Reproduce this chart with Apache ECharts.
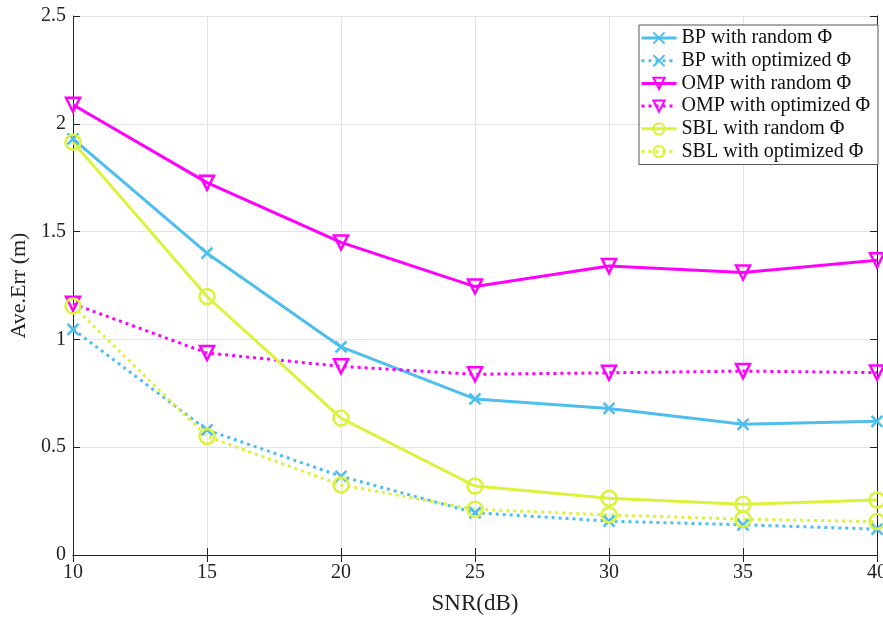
<!DOCTYPE html>
<html>
<head>
<meta charset="utf-8">
<script src="https://cdn.jsdelivr.net/npm/echarts@6/dist/echarts.min.js"></script>
<style>
  html, body { margin: 0; padding: 0; background: #fff; }
  #chart { width: 883px; height: 617px; }
</style>
</head>
<body>
<div id="chart"></div>
<script>
// SNR values on the x axis
const snr = [10, 15, 20, 25, 30, 35, 40];

// average error per method
const bpRandom = [1.93, 1.40, 0.965, 0.724, 0.68, 0.606, 0.62];
const bpOptimized = [1.047, 0.58, 0.365, 0.196, 0.157, 0.14, 0.12];
const ompRandom = [2.088, 1.727, 1.45, 1.245, 1.34, 1.31, 1.367];
const ompOptimized = [1.165, 0.937, 0.875, 0.838, 0.845, 0.853, 0.846];
const sblRandom = [1.915, 1.199, 0.635, 0.32, 0.263, 0.235, 0.255];
const sblOptimized = [1.155, 0.55, 0.325, 0.212, 0.186, 0.166, 0.155];

const names = [
    'BP with random \u03A6',
    'BP with optimized \u03A6',
    'OMP with random \u03A6',
    'OMP with optimized \u03A6',
    'SBL with random \u03A6',
    'SBL with optimized \u03A6'
];

const blue = '#4DBEEE';
const magenta = '#FF00FF';
const lime = '#DCF23A';
const font = '"Liberation Serif", "Times New Roman", serif';

const cross = 'path://M0,0L10,10M10,0L0,10';
const triDown = 'path://M0,0L10,0L5,9Z';

function pairs(vals) {
    return snr.map((x, i) => [x, vals[i]]);
}

function makeSeries(name, vals, color, symbol, size, dotted) {
    return {
        name: name,
        type: 'line',
        data: pairs(vals),
        symbol: symbol,
        symbolSize: size,
        showAllSymbol: true,
        lineStyle: {
            color: color,
            width: 3,
            type: dotted ? [3, 4] : 'solid'
        },
        itemStyle: {
            color: 'rgba(255,255,255,0)',
            borderColor: color,
            borderWidth: 2.5
        },
        emphasis: { disabled: true },
        z: 3
    };
}

let myChart = echarts.init(document.getElementById('chart'));

let option = {
    backgroundColor: '#fff',
    animation: false,
    textStyle: { fontFamily: font },
    grid: {
        left: 73,
        right: 6,
        top: 16,
        bottom: 62,
        outerBoundsMode: 'none'
    },
    legend: {
        orient: 'vertical',
        right: 5,
        top: 25,
        padding: [3, 8, 3, 1],
        itemWidth: 35,
        itemHeight: 14,
        itemGap: 2.7,
        backgroundColor: '#fff',
        borderColor: '#555',
        borderWidth: 1,
        lineStyle: { width: 3 },
        textStyle: {
            fontFamily: font,
            fontSize: 20,
            color: '#111'
        },
        data: names
    },
    xAxis: [
        {
            type: 'value',
            min: 10,
            max: 40,
            interval: 5,
            name: 'SNR(dB)',
            nameLocation: 'middle',
            nameGap: 37,
            nameTextStyle: { fontFamily: font, fontSize: 23, color: '#222' },
            axisLine: { lineStyle: { color: '#222', width: 1 } },
            axisTick: { inside: true, length: 7, lineStyle: { color: '#222' } },
            axisLabel: { fontFamily: font, fontSize: 20, color: '#222', margin: 8 },
            splitLine: { show: true, lineStyle: { color: '#e3e3e3', width: 1 } }
        },
        {
            type: 'value',
            position: 'top',
            min: 10,
            max: 40,
            interval: 5,
            axisLine: { show: true, lineStyle: { color: '#222', width: 1 } },
            axisTick: { show: true, inside: true, length: 7, lineStyle: { color: '#222' } },
            axisLabel: { show: false },
            splitLine: { show: false }
        }
    ],
    yAxis: [
        {
            type: 'value',
            min: 0,
            max: 2.5,
            interval: 0.5,
            name: 'Ave.Err (m)',
            nameLocation: 'middle',
            nameGap: 36,
            nameTextStyle: { fontFamily: font, fontSize: 22, color: '#222' },
            axisLine: { show: true, lineStyle: { color: '#222', width: 1 } },
            axisTick: { show: true, inside: true, length: 7, lineStyle: { color: '#222' } },
            axisLabel: { fontFamily: font, fontSize: 20, color: '#222', margin: 7 },
            splitLine: { show: true, lineStyle: { color: '#e3e3e3', width: 1 } }
        },
        {
            type: 'value',
            position: 'right',
            min: 0,
            max: 2.5,
            interval: 0.5,
            axisLine: { show: true, lineStyle: { color: '#222', width: 1 } },
            axisTick: { show: true, inside: true, length: 7, lineStyle: { color: '#222' } },
            axisLabel: { show: false },
            splitLine: { show: false }
        }
    ],
    series: [
        makeSeries(names[0], bpRandom, blue, cross, 11, false),
        makeSeries(names[1], bpOptimized, blue, cross, 11, true),
        makeSeries(names[2], ompRandom, magenta, triDown, 14, false),
        makeSeries(names[3], ompOptimized, magenta, triDown, 14, true),
        makeSeries(names[4], sblRandom, lime, 'circle', 15, false),
        makeSeries(names[5], sblOptimized, lime, 'circle', 15, true)
    ]
};

myChart.setOption(option);
</script>
</body>
</html>
